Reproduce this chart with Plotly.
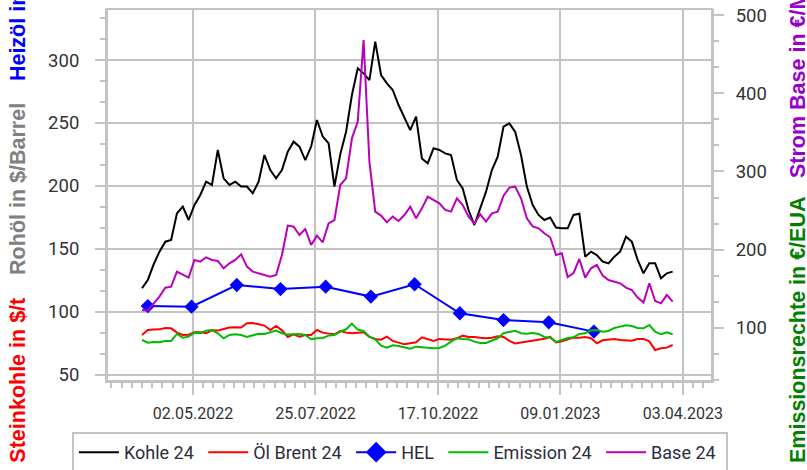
import pandas as pd
import plotly.graph_objects as go

# ---------------- data ----------------
start_date = "2022-03-28"   # first quote, values every 4 days
step = "4D"

kohle = [118.8, 125.4, 137.8, 147.9, 155.8, 157.1, 178.3, 183.6, 173.0, 184.9,
         192.9, 203.4, 200.8, 228.6, 206.1, 200.8, 203.4, 199.5, 199.5, 194.2,
         203.4, 224.6, 212.7, 206.1, 212.7, 227.2, 235.2, 231.2, 220.6, 231.2,
         252.4, 239.2, 233.9, 199.5, 225.1, 243.1, 272.2, 293.4, 289.4, 284.1,
         314.6, 288.1, 281.5, 276.2, 264.3, 253.7, 244.4, 255.0, 221.9, 218.0,
         229.9, 228.6, 225.9, 224.6, 204.8, 198.1, 180.9, 169.0, 182.3, 195.5,
         212.7, 223.3, 247.1, 249.7, 243.0, 224.6, 199.5, 184.9, 177.0, 173.0,
         174.9, 167.0, 166.4, 166.4, 177.0, 178.0, 143.9, 147.9, 145.2, 140.0,
         138.6, 143.9, 147.9, 159.8, 155.8, 141.3, 130.7, 138.6, 138.6, 126.7,
         130.7, 132.0]

oel_brent = [81.7, 85.7, 86.0, 86.2, 87.3, 87.0, 83.6, 81.7, 82.0, 83.8,
             83.8, 83.1, 85.4, 85.2, 86.5, 87.6, 87.8, 87.6, 91.0, 91.3,
             90.2, 89.2, 85.7, 88.9, 85.4, 80.2, 82.3, 80.4, 81.7, 81.7,
             85.7, 83.6, 82.8, 82.3, 84.9, 83.6, 83.1, 83.6, 83.9, 80.2,
             78.6, 78.0, 80.4, 77.0, 75.9, 74.3, 75.1, 75.9, 79.9, 78.6,
             77.0, 78.6, 78.3, 78.0, 79.1, 81.2, 80.2, 80.2, 79.6, 79.1,
             79.6, 80.7, 80.2, 77.0, 75.0, 75.7, 77.0, 77.2, 78.3, 78.8,
             80.2, 75.9, 76.7, 78.0, 79.6, 79.6, 80.2, 79.1, 75.1, 77.5,
             78.3, 78.6, 77.8, 77.5, 77.2, 78.6, 78.6, 76.7, 69.8, 71.2,
             71.7, 73.8]

emission = [84.6, 81.2, 82.1, 81.7, 83.4, 83.4, 92.3, 87.6, 88.9, 94.0,
            93.2, 96.6, 97.4, 93.2, 86.8, 91.0, 91.9, 91.0, 88.5, 91.0,
            92.7, 92.3, 94.0, 96.6, 93.2, 91.5, 91.9, 92.3, 91.0, 85.5,
            86.8, 87.2, 90.2, 91.0, 95.3, 98.3, 105.5, 97.9, 96.1, 88.9,
            85.5, 77.4, 74.9, 77.8, 77.0, 74.9, 73.6, 76.1, 75.3, 74.9,
            74.0, 74.4, 77.4, 82.5, 86.8, 85.9, 85.5, 82.5, 80.8, 80.8,
            83.8, 86.8, 93.2, 94.5, 96.5, 93.2, 92.7, 93.6, 92.3, 88.5,
            87.6, 82.1, 84.2, 87.2, 88.0, 92.3, 93.2, 97.0, 97.4, 95.3,
            96.1, 100.0, 101.7, 103.4, 102.5, 100.0, 99.5, 103.8, 95.3, 91.9,
            94.5, 91.9]

base = [123.0, 122.1, 131.5, 140.0, 151.5, 152.8, 172.0, 167.7, 164.3, 186.9,
        184.8, 190.3, 186.9, 185.6, 176.2, 182.6, 186.9, 194.1, 178.4, 172.0,
        169.9, 166.9, 165.6, 167.7, 193.3, 230.8, 229.5, 218.8, 226.5, 206.1,
        218.0, 209.5, 233.7, 238.0, 282.7, 291.3, 342.4, 363.7, 468.0, 312.6,
        248.7, 243.6, 235.0, 242.3, 236.7, 244.4, 255.0, 240.1, 252.9, 267.8,
        263.6, 259.3, 250.8, 248.7, 265.7, 257.2, 242.3, 233.7, 245.3, 235.9,
        246.5, 248.7, 269.1, 279.4, 280.6, 265.7, 240.1, 229.9, 227.4, 221.0,
        215.9, 193.3, 195.4, 165.0, 170.0, 188.2, 164.3, 176.2, 180.5, 166.9,
        161.3, 159.2, 157.1, 151.5, 148.5, 138.8, 132.4, 157.1, 134.5, 131.5,
        142.2, 133.6]

hel_dates = ["2022-04-01", "2022-05-01", "2022-06-01", "2022-07-01", "2022-08-01",
             "2022-09-01", "2022-10-01", "2022-11-01", "2022-12-01", "2023-01-01",
             "2023-02-01"]
hel = [104.7, 104.2, 121.4, 118.2, 120.1, 112.2, 122.0, 99.0, 93.6, 91.8, 84.4]

dates = pd.date_range(start_date, periods=len(kohle), freq=step)

# ---------------- styling ----------------
GRID = "#c3c3c3"
TICKFONT = dict(family="Roboto, Liberation Sans, sans-serif", size=18.5, color="#333333")
XTICKFONT = dict(family="Roboto, Liberation Sans, sans-serif", size=16, color="#333333")
TITLEFONT = "Liberation Sans, Arial, sans-serif"
PAD = "\u00a0"   # small trailing gap in legend entries

fig = go.Figure()
fig.add_trace(go.Scatter(x=dates, y=kohle, name="Kohle 24" + PAD, mode="lines",
                         line=dict(color="#000000", width=2)))
fig.add_trace(go.Scatter(x=dates, y=oel_brent, name="Öl Brent 24" + PAD, mode="lines",
                         line=dict(color="#ff0000", width=2)))
fig.add_trace(go.Scatter(x=hel_dates, y=hel, name="HEL", mode="lines+markers",
                         line=dict(color="#0000ff", width=2),
                         marker=dict(symbol="diamond", size=11, color="#0000ff"),
                         showlegend=False))
fig.add_trace(go.Scatter(x=[None], y=[None], name="HEL" + PAD, mode="lines+markers",
                         line=dict(color="#0000ff", width=2),
                         marker=dict(symbol="diamond", size=16, color="#0000ff")))
fig.add_trace(go.Scatter(x=dates, y=emission, name="Emission 24" + PAD, mode="lines",
                         line=dict(color="#00bb00", width=2), yaxis="y2"))
fig.add_trace(go.Scatter(x=dates, y=base, name="Base 24" + PAD, mode="lines",
                         line=dict(color="#bb00bb", width=2), yaxis="y2"))

DAY = 86400000
fig.update_layout(
    width=807, height=470,
    margin=dict(l=107, r=95, t=9, b=89, autoexpand=False),
    paper_bgcolor="white", plot_bgcolor="white",
    showlegend=True,
    xaxis=dict(
        type="date", range=["2022-03-04", "2023-04-23"],
        tick0="2022-05-02", dtick=84 * DAY, tickformat="%d.%m.%Y",
        showgrid=True, gridcolor=GRID, gridwidth=2,
        showline=True, linecolor=GRID, linewidth=2,
        ticks="outside", ticklen=12, tickwidth=2, tickcolor=GRID,
        tickfont=XTICKFONT, ticklabelstandoff=5,
        minor=dict(tick0="2022-05-02", dtick=7 * DAY, ticks="outside", ticklen=5,
                   tickwidth=2, tickcolor=GRID, showgrid=False),
        zeroline=False,
    ),
    yaxis=dict(
        range=[45.2, 340.5], tick0=50, dtick=50,
        showgrid=True, gridcolor=GRID, gridwidth=2,
        showline=True, linecolor=GRID, linewidth=2,
        ticks="outside", ticklen=10, tickwidth=2, tickcolor=GRID,
        tickfont=TICKFONT, ticklabelstandoff=12,
        minor=dict(tick0=50, dtick=50 / 3, ticks="outside", ticklen=5,
                   tickwidth=2, tickcolor=GRID, showgrid=False),
        zeroline=False,
    ),
    yaxis2=dict(
        overlaying="y", side="right",
        range=[32.2, 507.7], tick0=100, dtick=100,
        showgrid=False,
        showline=True, linecolor=GRID, linewidth=2,
        ticks="outside", ticklen=10, tickwidth=2, tickcolor=GRID,
        tickfont=TICKFONT, ticklabelstandoff=8,
        minor=dict(tick0=100, dtick=100 / 3, ticks="outside", ticklen=5,
                   tickwidth=2, tickcolor=GRID, showgrid=False),
        zeroline=False,
    ),
    legend=dict(
        orientation="h", x=-0.058, y=-0.137, xanchor="left", yanchor="top",
        bgcolor="white", bordercolor=GRID, borderwidth=2,
        font=dict(family="Roboto, Liberation Sans, sans-serif", size=18, color="#2d2d3d"),
        itemwidth=40,
    ),
    shapes=[dict(type="rect", xref="paper", yref="paper", x0=0, y0=0, x1=1, y1=1,
                 line=dict(color=GRID, width=2), layer="above")],
)

def title_piece(text, color, x, y):
    fig.add_annotation(text="<b>%s</b>" % text, xref="paper", yref="paper",
                       x=x, y=y, xanchor="center", yanchor="bottom",
                       textangle=-90, showarrow=False,
                       font=dict(family=TITLEFONT, size=21.5, color=color))

title_piece("Steinkohle in $/t", "#ff0000", -0.147, -0.226)
title_piece("Rohöl in $/Barrel", "#808080", -0.147, 0.280)
title_piece("Heizöl in €/100l", "#0000ff", -0.147, 0.801)
title_piece("Emissionsrechte in €/EUA", "#008000", 1.142, -0.226)
title_piece("Strom Base in €/MWh", "#9900cc", 1.142, 0.540)

fig.write_html("out.html", config={"displayModeBar": False},
               post_script="document.body.style.margin='0';document.body.style.padding='0';")
